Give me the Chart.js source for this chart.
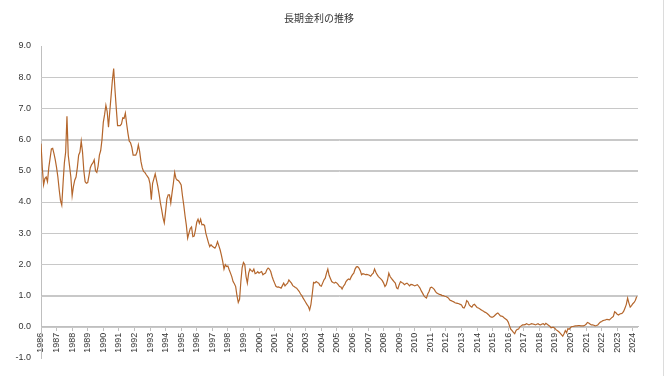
<!DOCTYPE html>
<html lang="ja">
<head>
<meta charset="utf-8">
<script src="https://cdn.jsdelivr.net/npm/chart.js@4.4.1/dist/chart.umd.min.js"></script>
<style>
  body { margin: 0; background: #fff linear-gradient(to right, transparent 663px, #dcdcdc 663px, #dcdcdc 664px, transparent 664px) no-repeat; }
</style>
</head>
<body>
<canvas id="rateChart" width="671" height="376"></canvas>
<script>
// 長期金利（10年国債利回り）月次, %
const firstYear = 1986;
const y1986 = [5.87, 5.10, 4.55, 4.75, 4.80, 4.65, 5.10, 5.40, 5.70, 5.72, 5.55, 5.35];
const y1987 = [5.10, 4.80, 4.40, 4.05, 3.90, 4.60, 5.25, 5.60, 6.75, 5.50, 5.15, 4.80];
const y1988 = [4.20, 4.50, 4.70, 4.80, 5.10, 5.50, 5.60, 5.95, 5.60, 5.00, 4.65, 4.60];
const y1989 = [4.62, 4.85, 5.10, 5.20, 5.25, 5.35, 5.00, 4.95, 5.15, 5.50, 5.65, 6.00];
const y1990 = [6.55, 6.80, 7.10, 6.90, 6.40, 6.90, 7.40, 7.90, 8.28, 7.60, 7.00, 6.45];
const y1991 = [6.45, 6.45, 6.50, 6.70, 6.68, 6.85, 6.50, 6.20, 5.95, 5.90, 5.75, 5.50];
const y1992 = [5.50, 5.50, 5.60, 5.83, 5.62, 5.30, 5.10, 4.98, 4.95, 4.88, 4.82, 4.76];
const y1993 = [4.58, 4.07, 4.60, 4.75, 4.90, 4.70, 4.50, 4.25, 3.97, 3.75, 3.50, 3.33];
const y1994 = [3.70, 4.10, 4.23, 4.23, 3.97, 4.30, 4.60, 4.95, 4.75, 4.70, 4.68, 4.62];
const y1995 = [4.55, 4.20, 3.90, 3.55, 3.25, 2.84, 3.00, 3.15, 3.20, 2.89, 2.91, 3.10];
const y1996 = [3.35, 3.45, 3.32, 3.45, 3.27, 3.28, 3.25, 3.00, 2.85, 2.70, 2.57, 2.63];
const y1997 = [2.58, 2.55, 2.52, 2.60, 2.73, 2.60, 2.47, 2.30, 2.10, 1.85, 1.99, 1.93];
const y1998 = [1.95, 1.83, 1.72, 1.61, 1.45, 1.38, 1.29, 1.00, 0.78, 0.88, 1.45, 1.90];
const y1999 = [2.06, 2.00, 1.61, 1.40, 1.72, 1.85, 1.80, 1.77, 1.85, 1.70, 1.72, 1.77];
const y2000 = [1.72, 1.75, 1.77, 1.67, 1.70, 1.72, 1.83, 1.88, 1.85, 1.77, 1.62, 1.50];
const y2001 = [1.40, 1.30, 1.27, 1.28, 1.26, 1.24, 1.32, 1.40, 1.31, 1.36, 1.40, 1.50];
const y2002 = [1.45, 1.40, 1.32, 1.29, 1.26, 1.24, 1.18, 1.13, 1.05, 1.00, 0.92, 0.85];
const y2003 = [0.78, 0.71, 0.65, 0.54, 0.72, 1.05, 1.42, 1.40, 1.45, 1.42, 1.40, 1.32];
const y2004 = [1.30, 1.40, 1.50, 1.56, 1.72, 1.85, 1.65, 1.55, 1.45, 1.42, 1.40, 1.43];
const y2005 = [1.40, 1.35, 1.29, 1.28, 1.21, 1.30, 1.35, 1.45, 1.50, 1.53, 1.51, 1.60];
const y2006 = [1.67, 1.72, 1.85, 1.92, 1.93, 1.88, 1.80, 1.67, 1.70, 1.69, 1.67, 1.68];
const y2007 = [1.67, 1.65, 1.62, 1.68, 1.72, 1.85, 1.75, 1.67, 1.61, 1.57, 1.53, 1.48];
const y2008 = [1.40, 1.29, 1.35, 1.50, 1.72, 1.61, 1.55, 1.50, 1.45, 1.40, 1.25, 1.22];
const y2009 = [1.35, 1.45, 1.42, 1.40, 1.35, 1.38, 1.40, 1.36, 1.31, 1.36, 1.35, 1.33];
const y2010 = [1.31, 1.33, 1.35, 1.30, 1.24, 1.15, 1.08, 1.00, 0.95, 0.92, 1.05, 1.13];
const y2011 = [1.25, 1.27, 1.24, 1.20, 1.13, 1.08, 1.06, 1.04, 1.03, 1.00, 1.00, 0.98];
const y2012 = [0.97, 0.95, 0.92, 0.86, 0.84, 0.82, 0.80, 0.77, 0.76, 0.75, 0.74, 0.72];
const y2013 = [0.70, 0.62, 0.60, 0.68, 0.84, 0.80, 0.70, 0.66, 0.63, 0.70, 0.72, 0.67];
const y2014 = [0.62, 0.60, 0.58, 0.55, 0.52, 0.50, 0.47, 0.45, 0.42, 0.38, 0.33, 0.31];
const y2015 = [0.31, 0.34, 0.38, 0.42, 0.44, 0.40, 0.35, 0.34, 0.32, 0.28, 0.25, 0.22];
const y2016 = [0.15, 0.03, -0.08, -0.12, -0.18, -0.22, -0.12, -0.08, -0.07, 0.00, 0.03, 0.06];
const y2017 = [0.06, 0.07, 0.10, 0.08, 0.06, 0.08, 0.10, 0.09, 0.08, 0.06, 0.08, 0.10];
const y2018 = [0.07, 0.06, 0.09, 0.10, 0.06, 0.11, 0.08, 0.05, 0.02, -0.03, -0.02, -0.02];
const y2019 = [-0.05, -0.10, -0.13, -0.16, -0.20, -0.25, -0.30, -0.22, -0.12, -0.19, -0.06, -0.08];
const y2020 = [-0.02, 0.01, 0.01, 0.02, 0.03, 0.03, 0.04, 0.04, 0.03, 0.03, 0.03, 0.05];
const y2021 = [0.08, 0.14, 0.12, 0.09, 0.06, 0.06, 0.05, 0.03, 0.04, 0.06, 0.11, 0.15];
const y2022 = [0.17, 0.20, 0.21, 0.22, 0.24, 0.23, 0.22, 0.26, 0.30, 0.33, 0.48, 0.45];
const y2023 = [0.40, 0.38, 0.41, 0.42, 0.44, 0.50, 0.60, 0.72, 0.92, 0.76, 0.63, 0.68];
const y2024 = [0.74, 0.78, 0.85, 0.97];

const yields = [].concat(
  y1986, y1987, y1988, y1989, y1990, y1991, y1992, y1993, y1994, y1995,
  y1996, y1997, y1998, y1999, y2000, y2001, y2002, y2003, y2004, y2005,
  y2006, y2007, y2008, y2009, y2010, y2011, y2012, y2013, y2014, y2015,
  y2016, y2017, y2018, y2019, y2020, y2021, y2022, y2023, y2024
);

const yMin = -1, yMax = 9, yStep = 1;

// horizontal gridlines from the y scale's own ticks, drawn under the line
const hGrid = {
  id: 'hGrid',
  beforeDatasetsDraw(chart) {
    const { ctx, chartArea, scales } = chart;
    ctx.save();
    ctx.strokeStyle = '#c8c8c8';
    ctx.lineWidth = 1;
    scales.y.ticks.forEach(t => {
      if (t.value === yMin || t.value === yMax) return;
      const py = Math.round(scales.y.getPixelForValue(t.value)) + 0.5;
      ctx.beginPath();
      ctx.moveTo(chartArea.left, py);
      ctx.lineTo(chartArea.right, py);
      ctx.stroke();
    });
    ctx.restore();
  }
};

Chart.defaults.font.family = "'Liberation Sans', Arial, sans-serif";

new Chart(document.getElementById('rateChart'), {
  type: 'line',
  data: {
    datasets: [{
      data: yields.map((v, i) => ({ x: i, y: v })),
      borderColor: '#b4662c',
      borderWidth: 1.2,
      pointRadius: 0,
      tension: 0,
      fill: false
    }]
  },
  options: {
    responsive: false,
    animation: false,
    layout: { padding: { left: 0, right: 33, top: 0, bottom: 18 } },
    plugins: {
      legend: { display: false },
      tooltip: { enabled: false },
      title: {
        display: true,
        text: '長期金利の推移',
        color: '#333',
        font: { size: 10, family: "'Noto Sans CJK JP', sans-serif", weight: 'normal' },
        padding: { top: 12, bottom: 22 }
      }
    },
    scales: {
      x: {
        type: 'linear',
        position: { y: 0 },
        min: 0,
        max: 460,
        ticks: {
          stepSize: 12,
          includeBounds: false,
          autoSkip: false,
          maxRotation: 90,
          minRotation: 90,
          padding: 2,
          color: '#333',
          font: { size: 9 },
          callback: v => (v % 12 === 0 ? String(firstYear + v / 12) : null)
        },
        grid: { drawOnChartArea: false, drawTicks: true, tickLength: 4, color: '#bfbfbf' },
        border: { color: '#bfbfbf' }
      },
      y: {
        min: yMin,
        max: yMax,
        ticks: {
          stepSize: yStep,
          color: '#333',
          font: { size: 9 },
          padding: 10,
          callback: v => v.toFixed(1)
        },
        grid: {
          drawTicks: false,
          lineWidth: 1,
          color: c => (c.index === 0 || c.index === 10) ? 'rgba(255,255,255,0)' : '#c8c8c8'
        },
        border: { color: '#bfbfbf' },
        afterFit: s => { s.width = 41; }
      }
    }
  },
  plugins: [hGrid]
});
</script>
</body>
</html>
